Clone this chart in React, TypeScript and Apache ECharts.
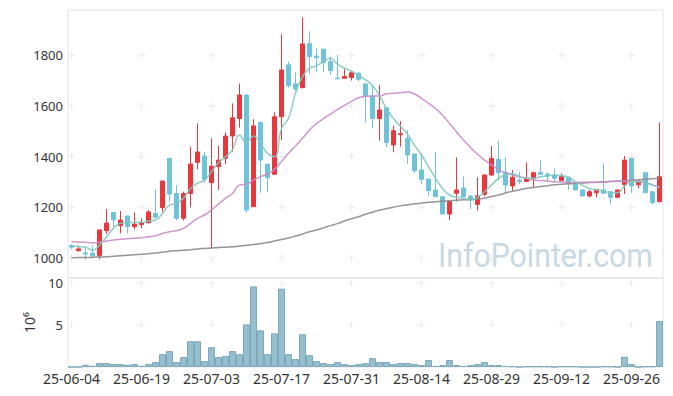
import React, { useEffect, useRef } from "react";
import * as echarts from "echarts";

const dates = [
  "25-06-04","25-06-05","25-06-09","25-06-10","25-06-11","25-06-12","25-06-13","25-06-16","25-06-17","25-06-18",
  "25-06-19","25-06-20","25-06-23","25-06-24","25-06-25","25-06-26","25-06-27","25-06-30","25-07-01","25-07-02",
  "25-07-03","25-07-04","25-07-07","25-07-08","25-07-09","25-07-10","25-07-11","25-07-14","25-07-15","25-07-16",
  "25-07-17","25-07-18","25-07-21","25-07-22","25-07-23","25-07-24","25-07-25","25-07-28","25-07-29","25-07-30",
  "25-07-31","25-08-01","25-08-04","25-08-05","25-08-06","25-08-07","25-08-08","25-08-11","25-08-12","25-08-13",
  "25-08-14","25-08-18","25-08-19","25-08-20","25-08-21","25-08-22","25-08-25","25-08-26","25-08-27","25-08-28",
  "25-08-29","25-09-01","25-09-02","25-09-03","25-09-04","25-09-05","25-09-08","25-09-09","25-09-10","25-09-11",
  "25-09-12","25-09-15","25-09-16","25-09-17","25-09-18","25-09-19","25-09-22","25-09-23","25-09-24","25-09-25",
  "25-09-26","25-09-29","25-09-30","25-10-01","25-10-02",
];

const opens = [
  1048,1028,1019,1018,1008,1107,1179,1127,1165,1123,
  1131,1138,1175,1198,1393,1254,1156,1254,1377,1402,
  1297,1360,1393,1481,1550,1643,1202,1534,1370,1330,
  1557,1762,1687,1672,1847,1797,1824,1775,1710,1709,
  1712,1729,1687,1639,1550,1593,1446,1487,1472,1410,
  1347,1311,1268,1241,1173,1255,1276,1244,1211,1251,
  1327,1389,1338,1284,1307,1301,1314,1338,1331,1327,
  1305,1318,1291,1268,1244,1257,1268,1261,1239,1288,
  1393,1288,1336,1261,1222,
];
const closes = [
  1042,1035,1015,1008,1110,1137,1150,1149,1123,1133,
  1138,1181,1160,1303,1252,1156,1254,1370,1418,1310,
  1362,1386,1481,1553,1643,1189,1521,1386,1316,1557,
  1742,1680,1667,1845,1795,1791,1771,1739,1707,1716,
  1731,1705,1639,1550,1584,1455,1502,1490,1406,1344,
  1310,1265,1241,1173,1222,1268,1241,1229,1244,1327,
  1393,1336,1287,1318,1301,1314,1336,1330,1323,1314,
  1323,1294,1268,1244,1261,1270,1255,1239,1268,1386,
  1284,1303,1257,1218,1320,
];
const lows = [
  1034,1024,991,997,994,1094,1122,1096,1096,1112,
  1116,1136,1160,1182,1222,1147,1147,1199,1349,1297,
  1037,1268,1370,1419,1515,1179,1200,1257,1260,1328,
  1465,1672,1659,1670,1726,1735,1733,1722,1705,1709,
  1700,1696,1534,1511,1463,1437,1417,1439,1371,1334,
  1292,1244,1240,1172,1149,1222,1240,1193,1186,1244,
  1323,1305,1255,1265,1291,1300,1278,1327,1301,1301,
  1304,1268,1267,1243,1239,1239,1254,1212,1235,1252,
  1257,1274,1256,1211,1218,
];
const highs = [
  1053,1048,1046,1048,1111,1193,1180,1185,1166,1179,
  1156,1189,1270,1304,1394,1287,1261,1439,1531,1418,
  1472,1442,1494,1610,1689,1647,1547,1538,1371,1575,
  1883,1775,1733,1950,1894,1828,1825,1795,1801,1746,
  1739,1734,1690,1683,1683,1594,1521,1540,1505,1411,
  1413,1312,1418,1242,1228,1397,1321,1248,1318,1328,
  1442,1462,1397,1347,1340,1377,1340,1386,1336,1353,
  1333,1319,1292,1269,1268,1271,1373,1262,1269,1402,
  1394,1307,1337,1262,1534,
];
// volume in millions of shares
const volumes = [
  0,0,0.27,0.15,0.47,0.47,0.35,0.35,0.27,0.35,
  0.15,0.35,0.59,1.53,1.89,0.59,1.18,3.07,3.07,0.7,
  2.36,1.18,1.33,1.89,1.53,5.08,9.6,4.37,1.53,4.01,
  9.33,1.53,0.94,3.9,1.41,0.7,0.47,0.35,0.59,0.35,
  0.23,0.35,0.45,1.06,0.59,0.59,0.35,0.47,0.47,0.35,
  0.23,0.83,0.12,0.23,0.83,0.23,0.12,0.23,0.35,0.59,
  0.23,0.23,0.12,0.08,0,0.08,0.08,0.08,0.08,0,
  0.08,0.08,0.08,0,0,0,0.08,0.08,0,1.22,
  0.35,0,0.08,0.08,5.47,
];
const ma5 = [
  1045,1044,1041,1030,1050,1083,1116,1136,1139,1139,
  1140,1145,1149,1175,1208,1215,1235,1274,1294,1307,
  1340,1376,1399,1426,1485,1455,1481,1452,1413,1399,
  1511,1551,1650,1716,1749,1758,1775,1788,1765,1750,
  1737,1722,1703,1680,1640,1590,1550,1520,1488,1445,
  1406,1360,1314,1274,1248,1239,1235,1228,1239,1261,
  1287,1314,1327,1333,1320,1314,1314,1320,1323,1327,
  1324,1318,1300,1287,1274,1268,1265,1257,1257,1283,
  1300,1300,1297,1287,1277,
];
const ma20 = [
  1063,1062,1061,1059,1062,1066,1070,1073,1075,1077,
  1079,1083,1087,1096,1103,1107,1116,1136,1156,1169,
  1189,1212,1235,1254,1287,1291,1307,1320,1331,1349,
  1380,1413,1442,1472,1505,1530,1550,1568,1585,1602,
  1618,1632,1638,1639,1639,1648,1650,1652,1655,1647,
  1630,1610,1590,1564,1531,1498,1465,1436,1409,1386,
  1366,1349,1336,1327,1320,1314,1307,1305,1303,1300,
  1299,1297,1298,1298,1298,1298,1298,1302,1302,1302,
  1302,1302,1297,1288,1281,
];
const ma60 = [
  1000,1001,1001,1002,1003,1004,1006,1008,1010,1012,
  1014,1016,1019,1022,1026,1028,1030,1032,1035,1037,
  1039,1041,1042,1043,1046,1049,1052,1056,1060,1066,
  1072,1078,1086,1094,1103,1110,1118,1127,1135,1145,
  1154,1162,1172,1180,1188,1194,1200,1205,1209,1213,
  1216,1219,1221,1223,1225,1227,1229,1230,1231,1236,
  1242,1248,1256,1263,1269,1274,1278,1282,1285,1288,
  1290,1292,1294,1295,1297,1298,1300,1301,1302,1304,
  1306,1308,1310,1312,1314,
];

const priceTicks = [1000, 1200, 1400, 1600, 1800];
const volumeTicks = [5, 10];
const labelEvery = 10;

const UP = "#e8383d";
const DOWN = "#6ec3da";
const FONT = "'Noto Sans', 'DejaVu Sans', sans-serif";
const PLUS = "path://M3,0h1v3h3v1h-3v3h-1v-3h-3v-1h3z";
const plain = (v: number) => String(v);

export default function App() {
  const ref = useRef<HTMLDivElement>(null);
  useEffect(() => {
    const chart = echarts.init(ref.current!, null, { renderer: "svg" });
    const candleData = dates.map((_, i) => [opens[i], closes[i], lows[i], highs[i]]);
    const tickCats = dates.map((_, i) => i).filter((i) => i % labelEvery === 0);
    const crossMain: number[][] = [];
    tickCats.forEach((c) => priceTicks.forEach((v) => crossMain.push([c, v])));
    const crossVol: number[][] = [];
    tickCats.forEach((c) => volumeTicks.forEach((v) => crossVol.push([c, v])));

    chart.setOption({
      animation: false,
      backgroundColor: "#ffffff",
      grid: [
        { left: 68, right: 10, top: 10, height: 268, show: true, borderColor: "#e3e3e3", borderWidth: 1, backgroundColor: "transparent" },
        { left: 68, right: 10, top: 278, height: 89, show: true, borderColor: "#e3e3e3", borderWidth: 1, backgroundColor: "transparent" },
      ],
      xAxis: [
        {
          type: "category", gridIndex: 0, data: dates,
          axisLine: { show: false }, axisTick: { show: false }, axisLabel: { show: false }, splitLine: { show: false },
        },
        {
          type: "category", gridIndex: 1, data: dates,
          axisLine: { show: false }, axisTick: { show: false }, splitLine: { show: false },
          axisLabel: { interval: labelEvery - 1, color: "#333", fontSize: 14, fontFamily: FONT, margin: 4 },
        },
      ],
      yAxis: [
        {
          type: "value", gridIndex: 0, min: 920, max: 1979, splitNumber: 5,
          axisLine: { show: false }, axisTick: { show: false }, splitLine: { show: false },
          axisLabel: { showMinLabel: false, showMaxLabel: false, color: "#333", fontSize: 13, fontFamily: FONT, margin: 5, formatter: plain },
        },
        {
          type: "value", gridIndex: 1, min: 0, max: 10.6, interval: 5,
          name: "10⁶", nameLocation: "middle", nameRotate: 90, nameGap: 32,
          nameTextStyle: { color: "#333", fontSize: 14, fontFamily: FONT },
          axisLine: { show: false }, axisTick: { show: false }, splitLine: { show: false },
          axisLabel: { showMinLabel: false, showMaxLabel: false, color: "#333", fontSize: 13, fontFamily: FONT, margin: 5, formatter: plain },
        },
      ],
      graphic: [
        {
          type: "text", x: 438, y: 255, scaleX: 0.89, z: 0, silent: true,
          style: { text: "InfoPointer.com", fontSize: 34, fontFamily: "Roboto, sans-serif", fill: "#c8d9e4", verticalAlign: "middle", align: "left" },
        },
      ],
      series: [
        {
          type: "scatter", xAxisIndex: 0, yAxisIndex: 0, data: crossMain, symbol: PLUS, symbolSize: 7,
          itemStyle: { color: "#e6e6e6" }, silent: true, z: 1,
        },
        {
          type: "scatter", xAxisIndex: 1, yAxisIndex: 1, data: crossVol, symbol: PLUS, symbolSize: 7,
          itemStyle: { color: "#e6e6e6" }, silent: true, z: 1,
        },
        {
          type: "candlestick", xAxisIndex: 0, yAxisIndex: 0, data: candleData, barWidth: 5,
          itemStyle: { color: UP, color0: DOWN, borderColor: UP, borderColor0: DOWN, borderWidth: 1 },
          z: 3,
        },
        {
          type: "line", xAxisIndex: 0, yAxisIndex: 0, data: ma60, showSymbol: false, smooth: true,
          lineStyle: { color: "#8a8a8a", width: 1.5, opacity: 0.9 }, z: 4,
        },
        {
          type: "line", xAxisIndex: 0, yAxisIndex: 0, data: ma20, showSymbol: false, smooth: true,
          lineStyle: { color: "#c98cc9", width: 1.5, opacity: 0.9 }, z: 4,
        },
        {
          type: "line", xAxisIndex: 0, yAxisIndex: 0, data: ma5, showSymbol: false, smooth: true,
          lineStyle: { color: "#80c9c1", width: 1.5, opacity: 0.9 }, z: 4,
        },
        {
          type: "bar", xAxisIndex: 1, yAxisIndex: 1, data: volumes, barCategoryGap: "0%",
          itemStyle: { color: "#95bfce", borderColor: "#7ea9ba", borderWidth: 1 }, z: 3,
        },
      ],
    });
    return () => chart.dispose();
  }, []);
  return <div ref={ref} style={{ position: "absolute", left: 0, top: 0, width: 673, height: 396 }} />;
}
